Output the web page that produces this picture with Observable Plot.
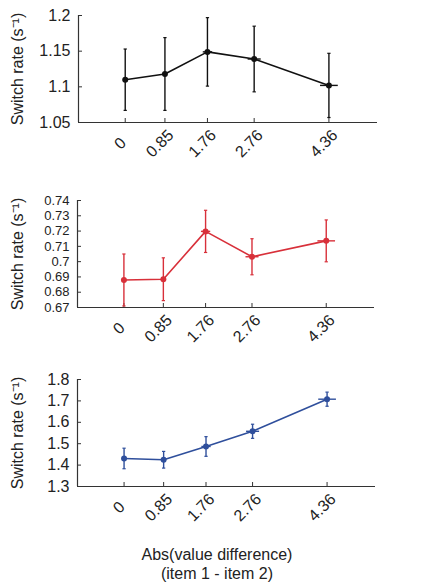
<!DOCTYPE html>
<html><head><meta charset="utf-8">
<script src="https://cdn.jsdelivr.net/npm/d3@7"></script>
<script src="https://cdn.jsdelivr.net/npm/@observablehq/plot@0.6"></script>
<style>
body{margin:0;background:#fff;font-family:"Liberation Sans",Arial,Helvetica,sans-serif}
#wrap{position:relative;width:431px;height:585px;overflow:hidden}
.panel{position:absolute;left:0}
.xl{position:absolute;left:0;width:434px;text-align:center;font-size:16px;color:#222;line-height:19px}
</style>
</head><body><div id="wrap"></div>
<script>
// x: |value difference| bins (mean) and their SEM
const xValues = [0, 0.85, 1.76, 2.76, 4.36];
const xErr = [0, 0.04, 0.1, 0.14, 0.19];
const xTickLabels = ["0", "0.85", "1.76", "2.76", "4.36"];

// panel 1 (black)
const rate1 = [1.110, 1.118, 1.149, 1.139, 1.102];
const err1 = [0.043, 0.051, 0.048, 0.046, 0.045];
const yTicks1 = [1.05, 1.1, 1.15, 1.2];

// panel 2 (red)
const rate2 = [0.688, 0.6885, 0.7198, 0.7032, 0.7136];
const err2 = [0.017, 0.014, 0.0138, 0.0118, 0.0137];
const yTicks2 = [0.67, 0.68, 0.69, 0.7, 0.71, 0.72, 0.73, 0.74];

// panel 3 (blue)
const rate3 = [1.431, 1.425, 1.487, 1.558, 1.708];
const err3 = [0.048, 0.039, 0.046, 0.033, 0.033];
const yTicks3 = [1.3, 1.4, 1.5, 1.6, 1.7, 1.8];

const yLabel = "Switch rate (s\u207B\u00B9)";
const xLabel1 = "Abs(value difference)";
const xLabel2 = "(item 1 - item 2)";

const xDomain = [-1, 5.4];
const axisColor = "#333";
const textColor = "#222";

function panel(rates, errs, yTicks, color, top, marginLeft, marginRight, yFont) {
  const data = xValues.map((x, i) => ({x, y: rates[i], e: errs[i], xe: xErr[i]}));
  const yDomain = [yTicks[0], yTicks[yTicks.length - 1]];
  const fmt = d => xTickLabels[xValues.indexOf(d)];
  const svg = Plot.plot({
    width: 431,
    height: 180,
    marginTop: 15,
    marginBottom: 58,
    marginLeft,
    marginRight,
    style: {fontFamily: "'Liberation Sans', Arial, Helvetica, sans-serif", fontSize: "16px", color: textColor, background: "transparent", overflow: "visible"},
    x: {domain: xDomain},
    y: {domain: yDomain},
    marks: [
      Plot.axisY(yTicks, {tickSize: -4, tickPadding: 12, tickFormat: d => String(d), stroke: axisColor, label: null, fontSize: yFont}),
      Plot.axisX(xValues, {tickSize: -4, text: null, stroke: axisColor, label: null}),
      Plot.text(xValues, {x: d => d, frameAnchor: "bottom", text: fmt, rotate: -45, dx: -5, dy: 21, textAnchor: "middle", lineAnchor: "middle", fontSize: 16, fill: textColor}),
      Plot.ruleX([xDomain[0]], {stroke: axisColor, strokeWidth: 1.2}),
      Plot.ruleY([yDomain[0]], {stroke: axisColor, strokeWidth: 1.2}),
      Plot.link(data, {x1: "x", x2: "x", y1: d => d.y - d.e, y2: d => d.y + d.e, stroke: color, strokeWidth: 1.4, clip: true}),
      Plot.link(data.filter(d => d.xe > 0), {x1: d => d.x - d.xe, x2: d => d.x + d.xe, y1: "y", y2: "y", stroke: color, strokeWidth: 1.4}),
      Plot.link(data, {x1: d => d.x - 0.035, x2: d => d.x + 0.035, y1: d => d.y + d.e, y2: d => d.y + d.e, stroke: color, strokeWidth: 1.2, clip: true}),
      Plot.link(data, {x1: d => d.x - 0.035, x2: d => d.x + 0.035, y1: d => d.y - d.e, y2: d => d.y - d.e, stroke: color, strokeWidth: 1.2, clip: true}),
      Plot.line(data, {x: "x", y: "y", stroke: color, strokeWidth: 1.6}),
      Plot.dot(data, {x: "x", y: "y", r: 3, fill: color, stroke: "none"})
    ]
  });
  svg.classList.add("panel");
  svg.style.top = top + "px";
  return svg;
}

const wrap = document.getElementById("wrap");
wrap.appendChild(panel(rate1, err1, yTicks1, "#111111", 0, 78, 54, 16));
wrap.appendChild(panel(rate2, err2, yTicks2, "#d8303a", 185, 77, 57, 13));
wrap.appendChild(panel(rate3, err3, yTicks3, "#2f4f9c", 364, 77, 56, 16));

// rotated y labels
[[0, 15, 122], [1, 200, 307], [2, 379, 486]].forEach(([k, y0, y1]) => {
  const d = document.createElement("div");
  d.textContent = yLabel;
  d.style.cssText = `position:absolute;left:17px;top:${(y0 + y1) / 2}px;transform:translate(-50%,-50%) rotate(-90deg);white-space:nowrap;font-size:16px;color:${textColor}`;
  wrap.appendChild(d);
});

const l1 = document.createElement("div");
l1.className = "xl"; l1.style.top = "545px"; l1.textContent = xLabel1;
const l2 = document.createElement("div");
l2.className = "xl"; l2.style.top = "564px"; l2.textContent = xLabel2;
wrap.appendChild(l1); wrap.appendChild(l2);
</script>
</body></html>
